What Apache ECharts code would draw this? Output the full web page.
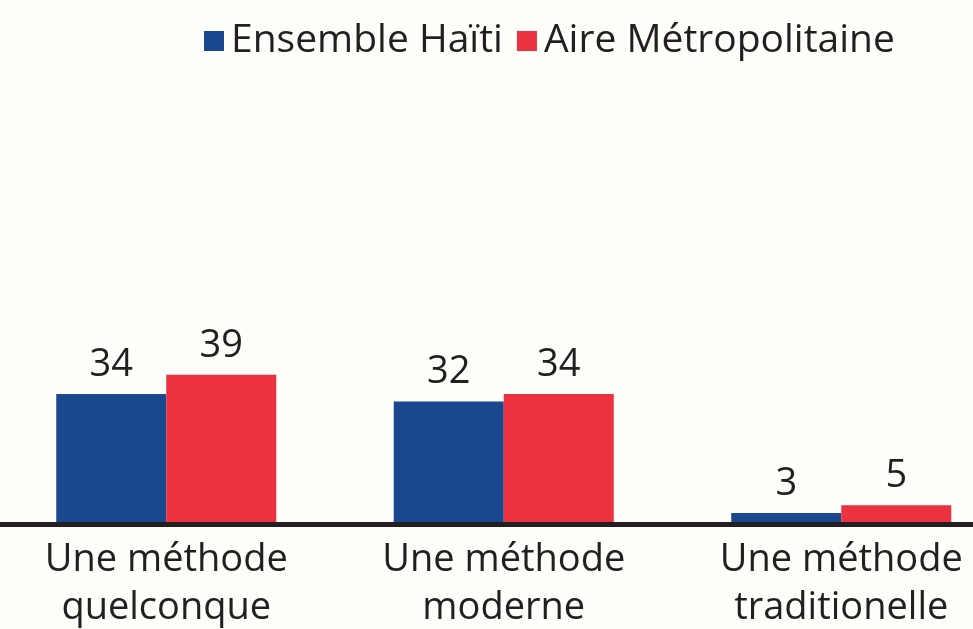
<!DOCTYPE html>
<html>
<head>
<meta charset="utf-8">
<script src="https://cdn.jsdelivr.net/npm/echarts@6/dist/echarts.min.js"></script>
<style>
html, body { margin: 0; padding: 0; background: #fdfdfa; }
#main { width: 973px; height: 629px; }
</style>
</head>
<body>
<div id="main"></div>
<script>
var categories = ['Une méthode\nquelconque', 'Une méthode\nmoderne', 'Une méthode\ntraditionelle'];
var seriesNames = ['Ensemble Haïti', 'Aire Métropolitaine'];
var haiti = [34, 32, 3];
var metro = [39, 34, 5];

var myChart = echarts.init(document.getElementById('main'));

var labelStyle = {
	show: true,
	position: 'top',
	distance: 10,
	fontFamily: 'Open Sans',
	fontSize: 38,
	color: '#231f20'
};

var option = {
	backgroundColor: '#fdfdfa',
	color: ['#19488f', '#ec3140'],
	legend: {
		left: 199,
		top: 16,
		itemWidth: 20,
		itemHeight: 20,
		itemGap: 14,
		icon: 'rect',
		textStyle: {
			fontFamily: 'Open Sans',
			fontSize: 39,
			lineHeight: 40,
			padding: [0, 0, 0, 2],
			color: '#231f20'
		},
		data: seriesNames
	},
	grid: {
		left: -2.5,
		width: 1012.5,
		top: 140.5,
		height: 384,
		containLabel: false,
		outerBoundsMode: 'none'
	},
	xAxis: {
		type: 'category',
		data: categories,
		z: 5,
		axisLine: { lineStyle: { color: '#231f20', width: 5 } },
		axisTick: { show: false },
		axisLabel: {
			margin: 12,
			fontFamily: 'Open Sans',
			fontSize: 38,
			lineHeight: 48,
			color: '#231f20'
		}
	},
	yAxis: {
		type: 'value',
		min: 0,
		max: 100,
		show: false
	},
	series: [{
		name: seriesNames[0],
		type: 'bar',
		barWidth: 110,
		barGap: 0,
		label: labelStyle,
		data: haiti
	}, {
		name: seriesNames[1],
		type: 'bar',
		barWidth: 110,
		barGap: 0,
		label: labelStyle,
		data: metro
	}]
};
myChart.setOption(option);
</script>
</body>
</html>
